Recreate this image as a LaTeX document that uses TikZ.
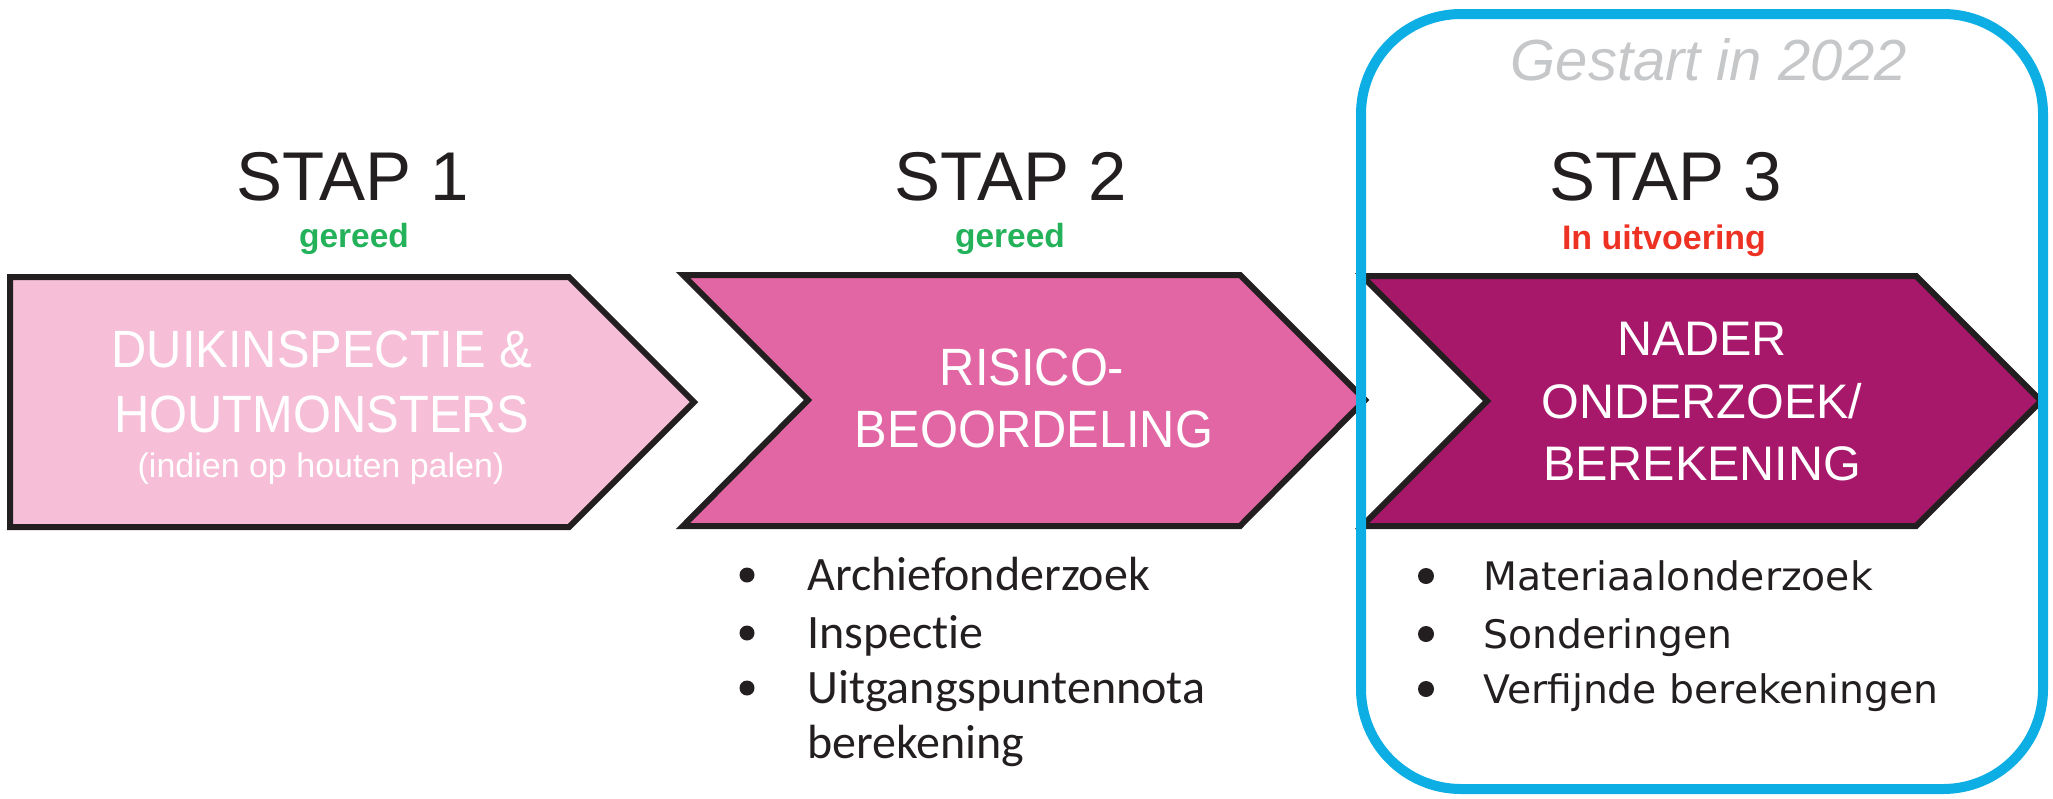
\documentclass[tikz,border=0pt]{standalone}
\usepackage{fontspec}
\setmainfont{Liberation Sans}
\newfontfamily\narrowsans[FakeStretch=0.93]{Liberation Sans}
\newfontfamily\listfontA[Ligatures={NoCommon,NoDiscretionary,NoRare}]{Carlito}
\newfontfamily\listfontB{DejaVu Sans}

\definecolor{ink}{RGB}{35,31,32}
\definecolor{pinkA}{RGB}{246,190,215}
\definecolor{pinkB}{RGB}{225,102,163}
\definecolor{pinkC}{RGB}{168,24,106}
\definecolor{doneGreen}{RGB}{35,178,90}
\definecolor{busyRed}{RGB}{237,50,36}
\definecolor{frameBlue}{RGB}{12,174,228}
\definecolor{noteGrey}{RGB}{198,199,201}

\begin{document}
\begin{tikzpicture}[x=1pt,y=-1pt,
  chevron/.style={draw=ink, line width=6pt, line join=miter},
  steptitle/.style={anchor=base, inner sep=0pt, text=ink, font=\fontsize{69}{83}\selectfont},
  status/.style={anchor=base, inner sep=0pt, font=\bfseries\fontsize{33.5}{40}\selectfont},
  arrowtext/.style={anchor=base, inner sep=0pt, text=white, font=\narrowsans\fontsize{52.5}{63}\selectfont},
  arrowtextwide/.style={anchor=base, inner sep=0pt, text=white, font=\fontsize{48.5}{58}\selectfont},
  itemA/.style={anchor=base west, inner sep=0pt, text=ink, font=\listfontA\fontsize{48}{58}\selectfont},
  itemB/.style={anchor=base west, inner sep=0pt, text=ink, font=\listfontB\fontsize{39.3}{47}\selectfont},
  dot/.style={circle, fill=ink, inner sep=0pt, minimum size=15pt}
]
\useasboundingbox (0,0) rectangle (2053,798);

% chevrons
\draw[chevron, fill=pinkA] (10,277) -- (569,277) -- (694,402) -- (569,527) -- (10,527) -- cycle;
\draw[chevron, fill=pinkB] (683,275) -- (1240,275) -- (1365,400) -- (1240,526) -- (683,526) -- (808,400) -- cycle;
\draw[chevron, fill=pinkC] (1362,276) -- (1916,276) -- (2041,401) -- (1916,526) -- (1362,526) -- (1487,401) -- cycle;

% step headings
\node[steptitle] (t1) at (353,200) {STAP 1};
\node[steptitle] (t2) at (1011,200) {STAP 2};
\node[steptitle] (t3) at (1666,200) {STAP 3};
\node[status, text=doneGreen] (s1) at (354,247) {gereed};
\node[status, text=doneGreen] (s2) at (1010,247) {gereed};
\node[status, text=busyRed, font=\bfseries\fontsize{34}{41}\selectfont] (s3) at (1664,249) {In uitvoering};

% text in the chevrons
\node[arrowtext] (a1l1) at (322,367) {DUIKINSPECTIE \&};
\node[arrowtext] (a1l2) at (322,432) {HOUTMONSTERS};
\node[arrowtext, font=\fontsize{34}{41}\selectfont] (a1l3) at (321,477) {(indien op houten palen)};
\node[arrowtext] (a2l1) at (1032,385) {RISICO-};
\node[arrowtext] (a2l2) at (1034,447) {BEOORDELING};
\node[arrowtextwide] (a3l1) at (1702,355) {NADER};
\node[arrowtextwide] (a3l2) at (1702,418) {ONDERZOEK/};
\node[arrowtextwide] (a3l3) at (1702,480) {BEREKENING};

% lists below the chevrons
\node[dot] (b21) at (747,575) {};
\node[dot] (b22) at (747,633) {};
\node[dot] (b23) at (747,688) {};
\node[itemA] (i21) at (807,590) {Archiefonderzoek};
\node[itemA] (i22) at (807,648) {Inspectie};
\node[itemA] (i23) at (807,703) {Uitgangspuntennota};
\node[itemA] (i24) at (807,758) {berekening};

\node[dot, minimum size=16pt] (b31) at (1426,576) {};
\node[dot, minimum size=16pt] (b32) at (1426,634) {};
\node[dot, minimum size=16pt] (b33) at (1426,689) {};
\node[itemB] (i31) at (1483,590) {Materiaalonderzoek};
\node[itemB] (i32) at (1483,648) {Sonderingen};
\node[itemB] (i33) at (1483,703) {Verfijnde berekeningen};

% frame around the running step
\draw[frameBlue, line width=10pt, rounded corners=100pt] (1361,14) rectangle (2043,789);
\node[anchor=base, inner sep=0pt, text=noteGrey, font=\itshape\fontsize{58}{70}\selectfont] (note) at (1709,80) {Gestart in 2022};
\end{tikzpicture}
\end{document}
